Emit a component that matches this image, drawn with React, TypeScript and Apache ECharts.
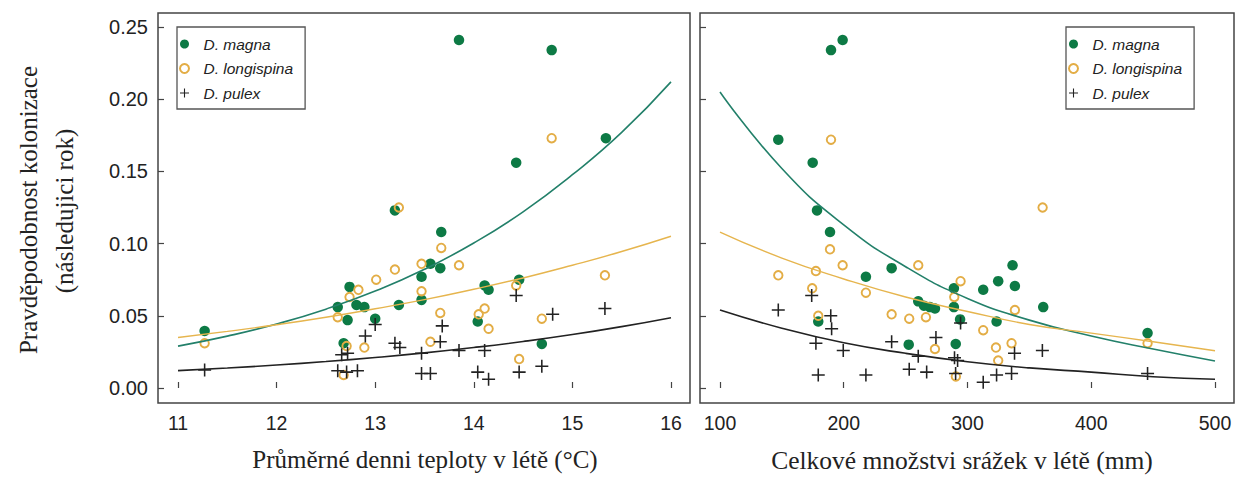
import React, { useEffect, useRef } from "react";
import * as echarts from "echarts";

// ---- tick values ----
const tempTicks = [11, 12, 13, 14, 15, 16];
const rainTicks = [100, 200, 300, 400, 500];
const probTicks = [0, 0.05, 0.1, 0.15, 0.2, 0.25];

const speciesNames = ["D. magna", "D. longispina", "D. pulex"];

// ---- left panel: mean daily summer temperature (°C) ----
const magnaTemp: [number, number][] = [
  [11.27, 0.0395], [12.62, 0.056], [12.68, 0.031], [12.72, 0.047], [12.74, 0.07],
  [12.81, 0.0575], [12.89, 0.056], [13.0, 0.048], [13.2, 0.123], [13.24, 0.0575],
  [13.47, 0.061], [13.47, 0.077], [13.56, 0.086], [13.66, 0.083], [13.67, 0.108],
  [13.85, 0.241], [14.04, 0.046], [14.11, 0.071], [14.15, 0.068], [14.43, 0.156],
  [14.46, 0.075], [14.69, 0.0305], [14.79, 0.234], [15.34, 0.173],
];
const longispinaTemp: [number, number][] = [
  [11.27, 0.031], [12.62, 0.049], [12.68, 0.009], [12.71, 0.029], [12.74, 0.063],
  [12.83, 0.068], [12.89, 0.028], [13.01, 0.075], [13.2, 0.082], [13.24, 0.125],
  [13.47, 0.086], [13.47, 0.067], [13.56, 0.032], [13.66, 0.052], [13.67, 0.097],
  [13.85, 0.085], [14.05, 0.051], [14.11, 0.055], [14.15, 0.041], [14.43, 0.071],
  [14.46, 0.02], [14.69, 0.048], [14.79, 0.173], [15.33, 0.078],
];
const pulexTemp: [number, number][] = [
  [11.27, 0.0125], [12.62, 0.012], [12.66, 0.023], [12.71, 0.011], [12.72, 0.024],
  [12.82, 0.012], [12.9, 0.036], [13.0, 0.044], [13.2, 0.031], [13.25, 0.028],
  [13.47, 0.024], [13.47, 0.01], [13.56, 0.01], [13.66, 0.032], [13.68, 0.043],
  [13.85, 0.026], [14.04, 0.011], [14.11, 0.026], [14.15, 0.006], [14.43, 0.064],
  [14.46, 0.011], [14.69, 0.015], [14.8, 0.051], [15.33, 0.055],
];
// fitted curves
const fitTempX = [11, 11.5, 12, 12.5, 13, 13.5, 14, 14.5, 15, 15.5, 16];
const fitMagnaTemp = [0.029, 0.0359, 0.0443, 0.0546, 0.0671, 0.0822, 0.1004, 0.122, 0.1477, 0.177, 0.212];
const fitLongispinaTemp = [0.035, 0.0392, 0.0438, 0.049, 0.0549, 0.0612, 0.0684, 0.0762, 0.085, 0.0945, 0.1051];
const fitPulexTemp = [0.012, 0.0138, 0.0159, 0.0183, 0.0211, 0.0243, 0.028, 0.0322, 0.037, 0.0425, 0.0487];

// ---- right panel: total summer precipitation (mm) ----
const magnaRain: [number, number][] = [
  [147.1, 0.172], [174.9, 0.156], [178.4, 0.123], [179.4, 0.046], [188.9, 0.108],
  [189.7, 0.234], [199.1, 0.241], [217.9, 0.077], [238.7, 0.083], [252.5, 0.03],
  [260.2, 0.06], [264.8, 0.057], [269.6, 0.056], [273.7, 0.055], [289.0, 0.069],
  [289.0, 0.056], [294.0, 0.0475], [290.5, 0.0305], [312.7, 0.068], [323.5, 0.046],
  [324.8, 0.074], [336.4, 0.085], [338.3, 0.0706], [361.2, 0.056], [445.5, 0.038],
];
const longispinaRain: [number, number][] = [
  [147.1, 0.078], [174.5, 0.069], [177.5, 0.081], [179.4, 0.05], [188.9, 0.096],
  [189.7, 0.172], [199.1, 0.085], [217.9, 0.066], [238.7, 0.051], [252.9, 0.048],
  [260.2, 0.085], [266.4, 0.049], [273.7, 0.027], [289.3, 0.063], [290.6, 0.008],
  [294.4, 0.074], [312.7, 0.04], [323.0, 0.028], [324.8, 0.019], [335.6, 0.031],
  [338.3, 0.054], [360.7, 0.125], [445.5, 0.031],
];
const pulexRain: [number, number][] = [
  [147.1, 0.054], [174.1, 0.064], [177.5, 0.031], [179.4, 0.009], [189.5, 0.05],
  [190.2, 0.041], [199.6, 0.026], [217.9, 0.009], [238.7, 0.032], [252.9, 0.013],
  [260.2, 0.022], [267.0, 0.011], [274.5, 0.035], [289.5, 0.021], [292.0, 0.019],
  [290.4, 0.01], [294.4, 0.045], [312.7, 0.004], [323.5, 0.009], [335.6, 0.01],
  [338.0, 0.024], [360.5, 0.026], [445.5, 0.01],
];
const fitRainX = [100, 150, 200, 250, 300, 350, 400, 450, 500];
const fitMagnaRain = [0.205, 0.152, 0.113, 0.084, 0.062, 0.047, 0.036, 0.027, 0.0187];
const fitLongispinaRain = [0.108, 0.09, 0.0755, 0.063, 0.053, 0.044, 0.038, 0.032, 0.0258];
const fitPulexRain = [0.054, 0.0414, 0.0313, 0.024, 0.0182, 0.0139, 0.011, 0.0078, 0.006];

const GREEN = "#0d7a45";
const GREEN_LINE = "#23806a";
const ORANGE = "#e3ad45";
const ORANGE_LINE = "#e6b54e";
const BLACK = "#222";
const PLUS = "path://M4.4,0H5.6V4.4H10V5.6H5.6V10H4.4V5.6H0V4.4H4.4Z";

const SANS = "'Liberation Sans', Arial, sans-serif";
const SERIF = "'Liberation Serif', 'Times New Roman', serif";

function pairs(xs: number[], ys: number[]) {
  return xs.map((x, i) => [x, ys[i]]);
}

export default function App() {
  const ref = useRef<HTMLDivElement>(null);

  useEffect(() => {
    if (!ref.current) return;
    const chart = echarts.init(ref.current, undefined, { renderer: "svg" });

    const yAxisBase = (showLabels: boolean, gridIndex: number) => ({
      type: "value",
      gridIndex,
      min: -0.0104,
      max: 0.2597,
      splitLine: { show: false },
      axisLine: { show: false },
      axisTick: {
        show: true,
        inside: true,
        length: 6,
        customValues: probTicks,
        lineStyle: { color: "#444", width: 1.2 },
      },
      axisLabel: {
        show: showLabels,
        customValues: probTicks,
        formatter: (v: number) => v.toFixed(2),
        fontFamily: SANS,
        fontSize: 20,
        color: "#222",
        margin: 10,
      },
    });

    const xAxisBase = (gridIndex: number, min: number, max: number, ticks: number[]) => ({
      type: "value",
      gridIndex,
      min,
      max,
      splitLine: { show: false },
      axisLine: { show: false },
      axisTick: {
        show: true,
        inside: true,
        length: 6,
        customValues: ticks,
        lineStyle: { color: "#444", width: 1.2 },
      },
      axisLabel: {
        customValues: ticks,
        fontFamily: SANS,
        fontSize: 19.5,
        color: "#222",
        margin: 10,
      },
    });

    const scatter = (name: string, data: [number, number][], idx: number, kind: number) => {
      const base: any = {
        type: "scatter",
        name,
        data,
        xAxisIndex: idx,
        yAxisIndex: idx,
        z: 2 + kind,
      };
      if (kind === 0) {
        base.symbol = "circle";
        base.symbolSize = 10.5;
        base.itemStyle = { color: GREEN, opacity: 1 };
      } else if (kind === 1) {
        base.symbol = "circle";
        base.symbolSize = 8.5;
        base.itemStyle = { color: "rgba(255,255,255,0)", borderColor: ORANGE, borderWidth: 1.9, opacity: 1 };
      } else {
        base.symbol = PLUS;
        base.symbolSize = 13;
        base.itemStyle = { color: BLACK, opacity: 1 };
      }
      return base;
    };

    const fit = (id: string, data: number[][], idx: number, color: string, width: number) => ({
      type: "line",
      name: id,
      data,
      xAxisIndex: idx,
      yAxisIndex: idx,
      smooth: true,
      symbol: "none",
      z: 6,
      lineStyle: { color, width },
    });

    const legendBase = (left: number) => ({
      left,
      top: 27,
      orient: "vertical",
      data: speciesNames,
      selectedMode: false,
      backgroundColor: "#fff",
      borderColor: "#555",
      borderWidth: 1.3,
      borderRadius: 0,
      padding: [9, 12, 8, 2],
      itemWidth: 28,
      itemHeight: 9,
      itemGap: 8.5,
      textStyle: {
        fontFamily: SANS,
        fontStyle: "italic",
        fontSize: 15.5,
        lineHeight: 16,
        color: "#222",
      },
    });

    const title = (text: string, x: number, y: number, vertical: boolean, size: number) => ({
      type: "text",
      x,
      y,
      rotation: vertical ? Math.PI / 2 : 0,
      style: {
        text,
        fontFamily: SERIF,
        fontSize: size,
        fill: "#222",
        align: "center",
        verticalAlign: "middle",
        textAlign: "center",
        textVerticalAlign: "middle",
      },
    });

    chart.setOption({
      animation: false,
      backgroundColor: "#fff",
      grid: [
        { left: 158, top: 13, width: 532, height: 390, show: true, borderColor: "#444", borderWidth: 1.5, backgroundColor: "#fff" },
        { left: 700, top: 13, width: 534, height: 390, show: true, borderColor: "#444", borderWidth: 1.5, backgroundColor: "#fff" },
      ],
      xAxis: [
        xAxisBase(0, 10.797, 16.193, tempTicks),
        xAxisBase(1, 83.84, 515.35, rainTicks),
      ],
      yAxis: [yAxisBase(true, 0), yAxisBase(false, 1)],
      legend: [legendBase(177), legendBase(1066)],
      series: [
        scatter(speciesNames[0], magnaTemp, 0, 0),
        scatter(speciesNames[1], longispinaTemp, 0, 1),
        scatter(speciesNames[2], pulexTemp, 0, 2),
        fit("fit magna T", pairs(fitTempX, fitMagnaTemp), 0, GREEN_LINE, 1.6),
        fit("fit longispina T", pairs(fitTempX, fitLongispinaTemp), 0, ORANGE_LINE, 1.4),
        fit("fit pulex T", pairs(fitTempX, fitPulexTemp), 0, BLACK, 1.6),
        scatter(speciesNames[0], magnaRain, 1, 0),
        scatter(speciesNames[1], longispinaRain, 1, 1),
        scatter(speciesNames[2], pulexRain, 1, 2),
        fit("fit magna R", pairs(fitRainX, fitMagnaRain), 1, GREEN_LINE, 1.6),
        fit("fit longispina R", pairs(fitRainX, fitLongispinaRain), 1, ORANGE_LINE, 1.4),
        fit("fit pulex R", pairs(fitRainX, fitPulexRain), 1, BLACK, 1.6),
      ],
      graphic: [
        title("Pravděpodobnost kolonizace", 28, 210, true, 25),
        title("(následujici rok)", 64, 211, true, 25),
        title("Průměrné denni teploty v létě (°C)", 425, 459, false, 25),
        title("Celkové množstvi srážek v létě (mm)", 962, 460, false, 25.5),
      ],
    });

    return () => chart.dispose();
  }, []);

  return (
    <div
      ref={ref}
      style={{ position: "fixed", left: 0, top: 0, width: 1240, height: 477, background: "#fff" }}
    />
  );
}
